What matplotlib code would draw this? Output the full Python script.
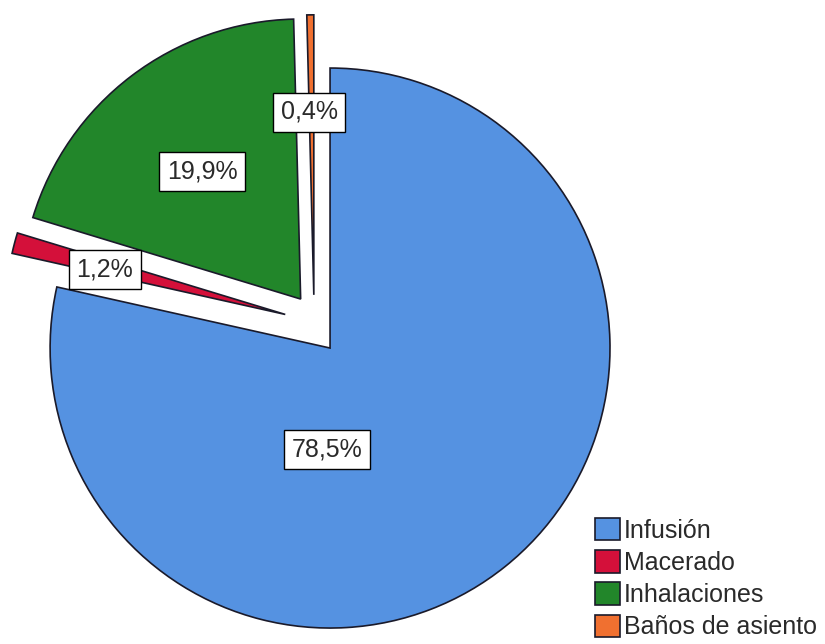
import matplotlib
matplotlib.use("Agg")
import matplotlib.pyplot as plt

plt.rcParams['font.family'] = ['Liberation Sans', 'DejaVu Sans']

categorias = ["Infusión", "Macerado", "Inhalaciones", "Baños de asiento"]
porcentajes = [78.5, 1.2, 19.9, 0.4]
etiquetas = ["78,5%", "1,2%", "19,9%", "0,4%"]
colores = ["#5592e1", "#d4103a", "#22862a", "#f07030"]

# desplazamiento de cada porcion (en radios) y posicion de la etiqueta
desplazamiento = [(0, 0), (-0.16, 0.12), (-0.105, 0.175), (-0.058, 0.19)]
pos_etiqueta = [(-0.01, -0.364), (-0.804, 0.279), (-0.457, 0.629), (-0.075, 0.843)]

fig = plt.figure(figsize=(8.25, 6.44), dpi=100)
ax = fig.add_axes([0, 0, 1, 1])

wedges, _ = ax.pie(porcentajes, colors=colores, startangle=90, counterclock=False,
                   radius=1.0, wedgeprops=dict(edgecolor="#1a1a2a", linewidth=1.2))

for w, (dx, dy) in zip(wedges, desplazamiento):
    w.set_center((dx, dy))

for txt, (x, y) in zip(etiquetas, pos_etiqueta):
    ax.text(x, y, txt, ha='center', va='center', fontsize=18, color="#2a2a2a",
            bbox=dict(boxstyle='square,pad=0.3', facecolor='white', edgecolor='black', linewidth=1))

ax.set_xlim(-1.179, 1.768)
ax.set_ylim(-1.057, 1.243)
ax.set_aspect('auto')
ax.axis('off')

leg = ax.legend(wedges, categorias, loc='lower left', bbox_to_anchor=(0.70, -0.02),
                bbox_transform=fig.transFigure, frameon=False, fontsize=18,
                handlelength=1.0, handleheight=1.0, handletextpad=0.15,
                labelspacing=0.3, borderpad=0.2)
for t in leg.get_texts():
    t.set_color("#2a2a2a")

fig.savefig("out.png", dpi=100)
